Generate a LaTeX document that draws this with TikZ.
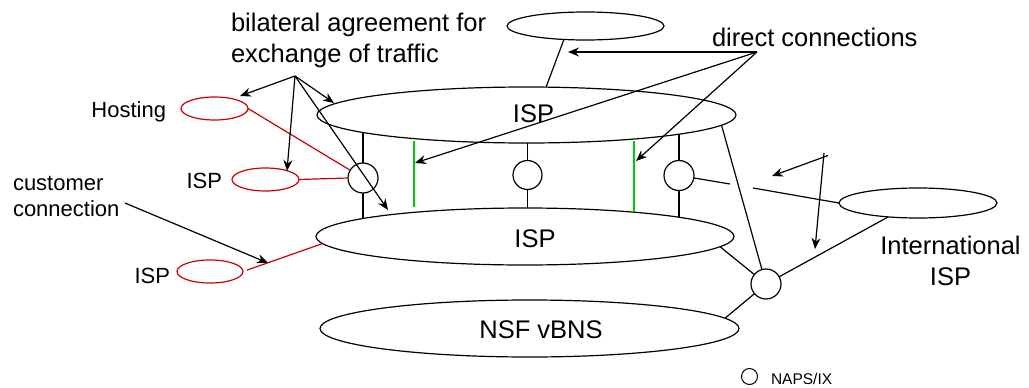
\documentclass[tikz,border=0pt]{standalone}
\usepackage{fontspec}
\setmainfont{Liberation Sans}
\usetikzlibrary{shapes.geometric,arrows.meta,calc}
\pgfdeclarelayer{bg}
\pgfsetlayers{bg,main}
\definecolor{myred}{RGB}{204,0,0}
\definecolor{mygreen}{RGB}{0,204,0}
\begin{document}
\begin{tikzpicture}[x=1pt,y=-1pt,
 every node/.style={inner sep=0pt, outer sep=0pt},
 ell/.style={draw, ellipse, line width=1.2pt, fill=white},
 rell/.style={draw=myred, ellipse, line width=1.2pt},
 napc/.style={draw, circle, line width=1.2pt, fill=white},
 conn/.style={line width=1.2pt},
 rconn/.style={line width=1.2pt, draw=myred},
 gconn/.style={line width=1.2pt, draw=mygreen},
 arr/.style={line width=1.2pt, -{Stealth[length=11pt,width=9pt]}},
 bigtxt/.style={font=\fontsize{25.5pt}{30.5pt}\selectfont},
 smalltxt/.style={font=\fontsize{22pt}{25.3pt}\selectfont},
 tinytxt/.style={font=\fontsize{15.5pt}{18pt}\selectfont}]

\useasboundingbox (0,0) rectangle (1029,388);

% large ellipses
\node[ell, minimum width=157pt, minimum height=28pt] (topE) at (585.5,26) {};
\node[ell, minimum width=419pt, minimum height=56pt] (ispt) at (526.5,115) {};
\node[ell, minimum width=418pt, minimum height=57pt] (ispb) at (525,236.5) {};
\node[ell, minimum width=419pt, minimum height=57pt] (nsf) at (529.5,328.5) {};
\node[ell, minimum width=158pt, minimum height=30pt] (intl) at (918,203) {};

% red customer ellipses
\node[rell, minimum width=67pt, minimum height=23pt] (host) at (214.5,108.5) {};
\node[rell, minimum width=67pt, minimum height=23pt] (ispm) at (265.5,179.5) {};
\node[rell, minimum width=66pt, minimum height=23pt] (ispl) at (210,271.5) {};

% exchange points
\node[napc, minimum size=30pt] (c1) at (363,178) {};
\node[napc, minimum size=29pt] (c2) at (527.5,175) {};
\node[napc, minimum size=30pt] (c3) at (679,175.5) {};
\node[napc, minimum size=30pt] (nap) at (766,284) {};
\node[napc, minimum size=16pt, line width=1pt] (legc) at (749.5,376.5) {};

% labels
\node[bigtxt] (isptl) at (533.5,114) {ISP};
\node[bigtxt] (ispbl) at (535,239) {ISP};
\node[bigtxt] (nsfl) at (541,330) {NSF vBNS};
\node[smalltxt, anchor=base east] (hostl) at (166,117) {Hosting};
\node[smalltxt, anchor=base east] (ispml) at (222,188) {ISP};
\node[smalltxt, anchor=base east] (ispll) at (170,283) {ISP};
\node[bigtxt, anchor=base west, align=left] (bilat) at (231,62) {bilateral agreement for\\exchange of traffic};
\node[bigtxt, anchor=base west] (direct) at (712,46) {direct connections};
\node[smalltxt, anchor=base west, align=left] (cust) at (13,216) {customer\\connection};
\node[bigtxt, anchor=base, align=center] (intll) at (950.5,285) {International\\ISP};
\node[tinytxt, anchor=base west] (legl) at (771,384) {NAPS/IX};

% vertical links (hidden inside the ellipses)
\begin{pgfonlayer}{bg}
\draw[conn] (c1) -- (c1 |- ispt);
\draw[conn] (c1) -- (c1 |- ispb);
\draw[conn] (c2) -- (c2 |- ispt);
\draw[conn] (c2) -- (c2 |- ispb);
\draw[conn] (c3) -- (c3 |- ispt);
\draw[conn] (c3) -- (c3 |- ispb);
\end{pgfonlayer}

% green direct connections
\coordinate (g1a) at (414,141);
\coordinate (g1b) at (414,207);
\coordinate (g2a) at (634,141);
\coordinate (g2b) at (634,212);
\draw[gconn] (g1a) -- (g1b);
\draw[gconn] (g2a) -- (g2b);

% black links
\draw[conn] (topE.212) -- (ispt.55);
\draw[conn] (ispt.-3) -- (nap);
\draw[conn] (ispb.-3) -- (nap);
\draw[conn] (nsf.3) -- (nap);
\draw[conn] (intl.205) -- (nap);
\coordinate (h1) at (730,184);
\coordinate (h2) at (753,188);
\draw[conn] (c3) -- (h1);
\draw[conn] (h2) -- (intl.west);

% red links
\draw[rconn] (host.east) -- (c1);
\draw[rconn] (ispm.east) -- (c1.west);
\draw[rconn, shorten <=4pt] (ispl.east) -- (ispb.182);

% bilateral arrows
\coordinate (bl) at (295,76);
\coordinate (blh) at (240,96);
\coordinate (blt) at (334,103);
\coordinate (blm) at (287,171);
\coordinate (blb) at (388,210);
\draw[arr] (bl) -- (blh);
\draw[arr] (bl) -- (blt);
\draw[arr] (bl) -- (blm);
\draw[arr] (bl) -- (blb);

% direct connection arrows
\coordinate (dc) at (757,52);
\coordinate (dca) at (568,52);
\coordinate (dcb) at (415,163);
\coordinate (dcc) at (636,161);
\draw[arr] (dc) -- (dca);
\draw[arr] (dc) -- (dcb);
\draw[arr] (dc) -- (dcc);

% arrows near international link
\coordinate (va) at (828,155.5);
\coordinate (vat) at (772,176);
\coordinate (vb) at (824,153);
\coordinate (vbt) at (815,249);
\draw[arr] (va) -- (vat);
\draw[arr] (vb) -- (vbt);

% customer connection arrow
\coordinate (cc) at (125,203);
\coordinate (cct) at (268,263);
\draw[arr] (cc) -- (cct);
\end{tikzpicture}
\end{document}
